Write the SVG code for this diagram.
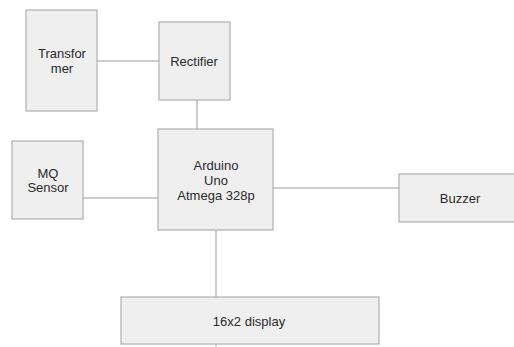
<svg xmlns="http://www.w3.org/2000/svg" width="514" height="347" viewBox="0 0 514 347">
<style>
.box{fill:#efefef;stroke:#b4b4b4;stroke-width:1.3}
.t{font-family:"Liberation Sans",Arial,sans-serif;font-size:13px;fill:#2a2a2a;text-anchor:middle}
.c{stroke:#999;stroke-width:1;fill:none}
</style>
<rect width="514" height="347" fill="#fff"/>
<g id="connectors">
<line class="c" x1="97" y1="61" x2="159" y2="61"/>
<line class="c" x1="197" y1="100" x2="197" y2="129"/>
<line class="c" x1="83" y1="198" x2="161" y2="198"/>
<line class="c" x1="273" y1="188" x2="399" y2="188"/>
<line class="c" x1="216" y1="230" x2="216" y2="297"/>
<line class="c" x1="216" y1="344" x2="216" y2="347"/>
<line x1="161" y1="175" x2="161" y2="222" stroke="#aaa" stroke-width="2"/>
</g>
<g id="transformer">
<rect class="box" x="26" y="10" width="71" height="101"/>
<text class="t" x="62" y="58">Transfor</text>
<text class="t" x="62" y="73">mer</text>
</g>
<g id="rectifier">
<rect class="box" x="159" y="22" width="71" height="78"/>
<text class="t" x="194" y="66">Rectifier</text>
</g>
<g id="mq">
<rect class="box" x="12" y="141" width="71" height="78"/>
<text class="t" x="48" y="178">MQ</text>
<text class="t" x="48" y="192">Sensor</text>
</g>
<g id="arduino">
<rect class="box" x="158" y="129" width="115" height="101"/>
<text class="t" x="216" y="170">Arduino</text>
<text class="t" x="216" y="185">Uno</text>
<text class="t" x="216" y="200">Atmega 328p</text>
</g>
<g id="buzzer">
<rect class="box" x="399" y="174" width="118" height="48"/>
<text class="t" x="460" y="203">Buzzer</text>
</g>
<g id="display">
<rect class="box" x="121" y="297" width="258" height="47"/>
<text class="t" x="249" y="326">16x2 display</text>
</g>
</svg>
